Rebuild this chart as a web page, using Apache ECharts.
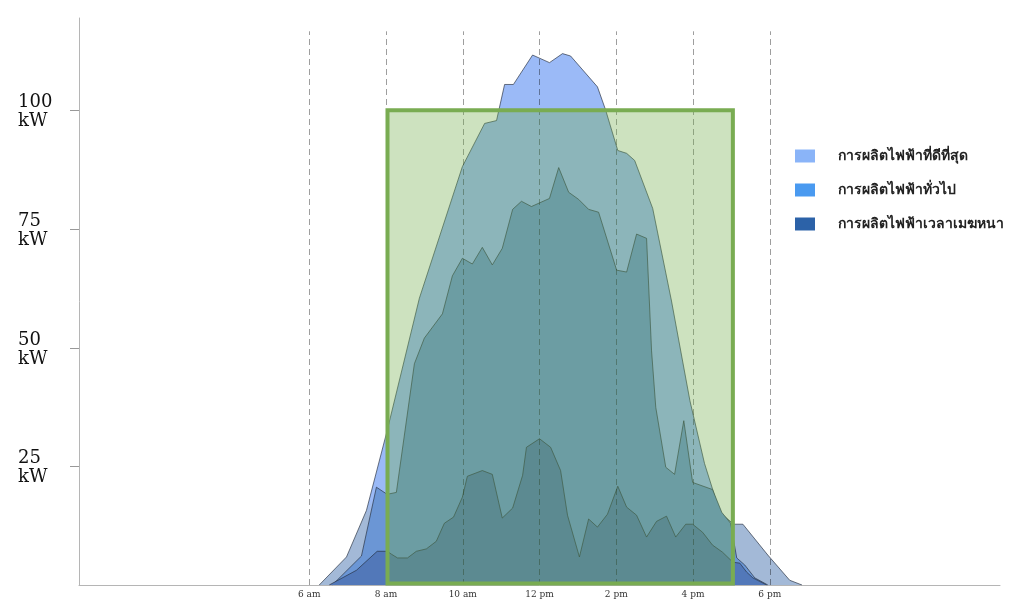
<!DOCTYPE html>
<html>
<head>
<meta charset="utf-8">
<script src="https://cdn.jsdelivr.net/npm/echarts@6/dist/echarts.min.js"></script>
<style>
html,body{margin:0;padding:0;background:#fff;}
#chart{width:1030px;height:606px;}
</style>
</head>
<body>
<div id="chart"></div>
<script>
// ---- data ----
const seriesNames = ['การผลิตไฟฟ้าที่ดีที่สุด', 'การผลิตไฟฟ้าทั่วไป', 'การผลิตไฟฟ้าเวลาเมฆหนา'];

const bestHours = [6.26, 6.97, 7.49, 8.03, 8.87, 9.99, 10.57, 10.88, 11.09, 11.32, 11.82, 12.26, 12.6, 12.81, 13.51, 13.72, 14.04, 14.27, 14.48, 14.95, 15.44, 15.92, 16.3, 16.7, 17.06, 17.3, 17.95, 18.52, 18.84];
const bestKW    = [0, 5.9, 15.7, 32.5, 60.4, 88.1, 97.2, 97.8, 105.4, 105.4, 111.6, 110.0, 111.9, 111.4, 104.9, 100.1, 91.5, 90.9, 89.4, 79.3, 59.8, 38.8, 25.6, 15.3, 12.8, 12.8, 6.3, 1.0, 0];

const typicalHours = [6.6, 7.36, 7.75, 8.03, 8.27, 8.74, 9.0, 9.47, 9.73, 9.99, 10.25, 10.51, 10.77, 11.03, 11.3, 11.53, 11.79, 12.26, 12.5, 12.76, 13.02, 13.28, 13.54, 14.01, 14.27, 14.53, 14.79, 14.92, 15.03, 15.29, 15.52, 15.76, 15.99, 16.51, 16.75, 16.98, 17.14, 17.35, 17.61, 17.95];
const typicalKW    = [0, 6.1, 20.6, 19.1, 19.5, 46.6, 52.0, 57.1, 65.1, 68.8, 67.6, 71.1, 67.4, 70.9, 79.1, 80.8, 79.7, 81.4, 87.9, 82.7, 81.2, 79.1, 78.5, 66.3, 65.9, 73.9, 73.0, 49.3, 37.4, 24.8, 23.3, 34.6, 21.6, 20.1, 15.3, 13.0, 5.7, 4.2, 1.5, 0];

const cloudyHours = [6.52, 7.23, 7.77, 8.03, 8.14, 8.3, 8.56, 8.79, 9.05, 9.31, 9.52, 9.76, 9.99, 10.12, 10.51, 10.77, 11.03, 11.3, 11.56, 11.66, 12.0, 12.29, 12.55, 12.73, 13.04, 13.28, 13.51, 13.77, 14.04, 14.27, 14.53, 14.79, 15.05, 15.31, 15.55, 15.81, 15.99, 16.25, 16.51, 16.77, 17.04, 17.22, 17.4, 17.56, 17.92];
const cloudyKW    = [0, 3.1, 7.1, 7.1, 6.5, 5.7, 5.7, 7.1, 7.6, 9.2, 13.0, 14.3, 18.5, 22.9, 24.1, 23.3, 14.1, 16.2, 23.1, 29.0, 30.8, 29.0, 24.1, 14.7, 5.9, 13.9, 12.2, 14.9, 20.8, 16.4, 14.7, 10.1, 13.4, 14.5, 10.1, 12.8, 12.8, 11.1, 8.4, 6.9, 4.8, 4.6, 2.7, 1.5, 0];

// optimal window (start hour, end hour, kW)
const windowStart = 8, windowEnd = 17, windowKW = 100;

// x tick labels
const tickHours  = [6, 8, 10, 12, 14, 16, 18];
const tickLabels = ['6 am', '8 am', '10 am', '12 pm', '2 pm', '4 pm', '6 pm'];
const guideTopKW = 116.6;

// y tick values
const yTicks = [25, 50, 75, 100];

// ---- build ----
function pairs(xs, ys) { return xs.map((x, i) => [x, ys[i]]); }

const legendColors = ['#8ab4f8', '#4a9af0', '#2c62a8'];
const edge = { color: 'rgba(35,45,60,0.65)', width: 1 };

const chart = echarts.init(document.getElementById('chart'), null, { renderer: 'canvas' });

const option = {
  animation: false,
  backgroundColor: '#fff',
  grid: { left: 79, right: 30, top: 18, bottom: 21 },
  legend: {
    left: 795, top: 147, orient: 'vertical', padding: 0,
    icon: 'rect', itemWidth: 20, itemHeight: 13, itemGap: 16,
    textStyle: { fontSize: 14, fontWeight: 'bold', lineHeight: 18, color: '#222', fontFamily: 'Noto Sans, sans-serif', padding: [0, 0, 0, 18] },
    selectedMode: false,
    data: seriesNames.map((n, i) => ({ name: n, itemStyle: { color: legendColors[i] } }))
  },
  xAxis: {
    type: 'value', min: 0, max: 24, interval: 2,
    axisLine: { show: true, lineStyle: { color: '#b5b5b5', width: 1 } },
    axisTick: { show: false },
    splitLine: { show: false },
    axisLabel: {
      margin: 5, fontSize: 9, color: '#333', fontFamily: 'DejaVu Serif, serif',
      formatter: v => { const i = tickHours.indexOf(v); return i >= 0 ? tickLabels[i] : ''; }
    }
  },
  yAxis: {
    type: 'value', min: 0, max: 119.4, interval: 25,
    axisLine: { show: true, lineStyle: { color: '#b5b5b5', width: 1 } },
    axisTick: { show: false },
    splitLine: { show: false },
    axisLabel: {
      customValues: yTicks,
      align: 'left', margin: 61, color: '#111',
      fontFamily: 'DejaVu Serif, Liberation Serif, serif',
      formatter: v => '{s|}\n{a|' + v + '}\n{a|kW}',
      rich: {
        s: { height: 4, lineHeight: 4, fontSize: 4 },
        a: { fontSize: 18, lineHeight: 19, fontFamily: 'DejaVu Serif, Liberation Serif, serif', color: '#111' }
      }
    }
  },
  series: [
    {
      name: seriesNames[0], type: 'line', z: 2, symbol: 'none',
      itemStyle: { color: legendColors[0] },
      lineStyle: edge,
      areaStyle: {
        opacity: 1,
        color: new echarts.graphic.LinearGradient(0, 0, 0, 1, [
          { offset: 0, color: '#9bbaf7' },
          { offset: 0.84, color: '#9bbaf7' },
          { offset: 0.87, color: '#a3b9d7' },
          { offset: 1, color: '#a3b9d7' }
        ])
      },
      data: pairs(bestHours, bestKW)
    },
    {
      name: seriesNames[1], type: 'line', z: 3, symbol: 'none',
      itemStyle: { color: legendColors[1] },
      lineStyle: edge,
      areaStyle: { opacity: 1, color: '#6b96d5' },
      data: pairs(typicalHours, typicalKW)
    },
    {
      name: seriesNames[2], type: 'line', z: 4, symbol: 'none',
      itemStyle: { color: legendColors[2] },
      lineStyle: edge,
      areaStyle: { opacity: 1, color: '#5278b9' },
      data: pairs(cloudyHours, cloudyKW)
    },
    {
      name: 'guides', type: 'line', z: 5, data: [], silent: true,
      markLine: {
        silent: true, symbol: 'none', label: { show: false },
        lineStyle: { color: 'rgba(0,0,0,0.38)', type: [6, 4], width: 1 },
        data: tickHours.map(h => [{ coord: [h, 0] }, { coord: [h, guideTopKW] }])
      }
    },
    {
      name: 'yticks', type: 'custom', z: 5, silent: true, clip: false,
      encode: { y: 0 },
      data: yTicks.map(v => [v]),
      renderItem: (params, api) => {
        const p = api.coord([0, api.value(0)]);
        return {
          type: 'line',
          shape: { x1: p[0] - 9, y1: Math.round(p[1]) + 0.5, x2: p[0], y2: Math.round(p[1]) + 0.5 },
          style: { stroke: '#999', lineWidth: 1 }
        };
      }
    },
    {
      name: 'window', type: 'custom', z: 10, silent: true, clip: false,
      encode: { x: [0, 1], y: 2 },
      data: [[windowStart, windowEnd, windowKW]],
      renderItem: (params, api) => {
        const p0 = api.coord([api.value(0), api.value(2)]);
        const p1 = api.coord([api.value(1), 0]);
        return {
          type: 'rect',
          shape: { x: p0[0] + 1.5, y: p0[1], width: p1[0] - p0[0], height: p1[1] - p0[1] - 1.5 },
          style: { fill: 'rgba(112,173,71,0.35)', stroke: '#79ac52', lineWidth: 4 }
        };
      }
    }
  ]
};
chart.setOption(option);
</script>
</body>
</html>
